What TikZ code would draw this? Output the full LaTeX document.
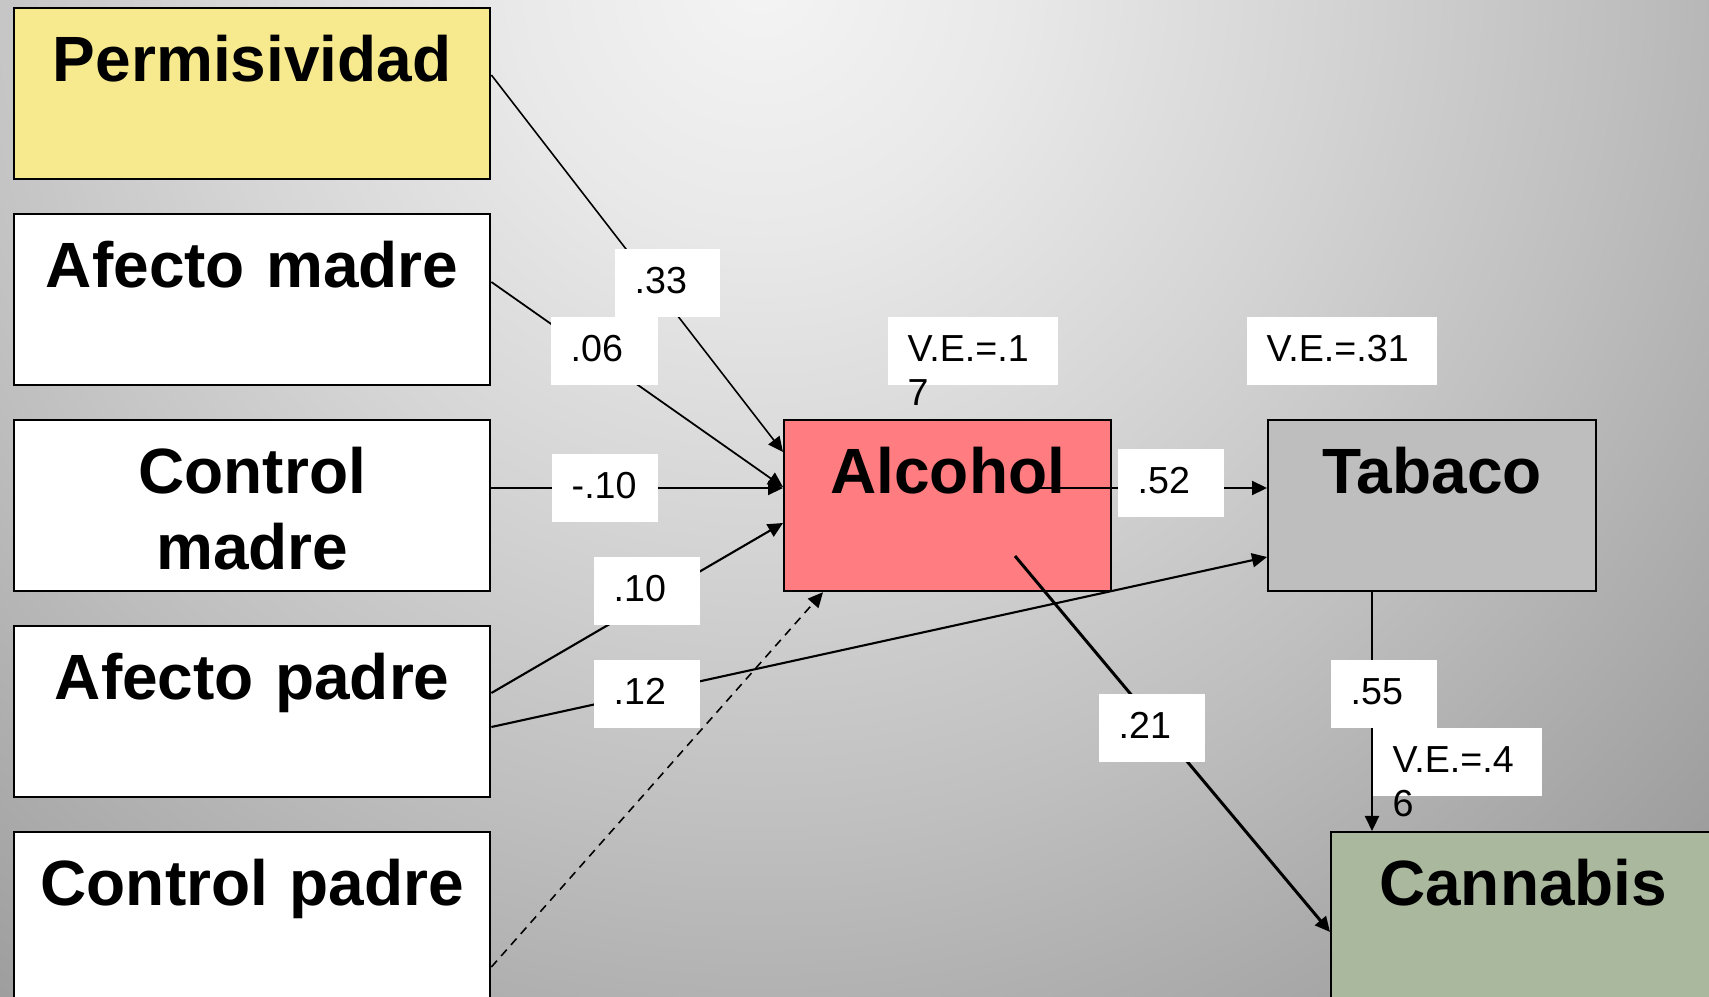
\documentclass[tikz,border=0pt]{standalone}
\usepackage{fontspec}
\setmainfont{Liberation Sans}
\usetikzlibrary{arrows.meta,calc}
\definecolor{bgA}{HTML}{F4F4F4}
\definecolor{bgB}{HTML}{E9E9E9}
\definecolor{bgC}{HTML}{D5D5D5}
\definecolor{bgD}{HTML}{BFBFBF}
\definecolor{bgE}{HTML}{AFAFAF}
\definecolor{bgF}{HTML}{9F9F9F}
\definecolor{bgG}{HTML}{8E8E8E}
\definecolor{permcol}{HTML}{F7E98E}
\definecolor{alccol}{HTML}{FF7C80}
\definecolor{tabcol}{HTML}{BEBEBE}
\definecolor{cancol}{HTML}{AAB99E}
\pgfdeclareradialshading{bgshade}{\pgfpoint{0bp}{0bp}}{color(0bp)=(bgA); color(4.3bp)=(bgB); color(9.5bp)=(bgC); color(14.7bp)=(bgD); color(18.1bp)=(bgE); color(21.6bp)=(bgF); color(25bp)=(bgG); color(50bp)=(bgG)}
\tikzset{
  bigbox/.style={draw=black, line width=0.6pt, anchor=north west, inner sep=0pt,
    align=center, text height=7.3mm, text depth=9.8mm,
    font=\bfseries\fontsize{18.2}{21.6}\selectfont},
  lbl/.style={fill=white, anchor=north west, inner sep=0pt, align=left,
    text height=4.5mm, text depth=2.35mm, font=\fontsize{10.7}{12.5}\selectfont},
  arr/.style={-{Triangle[length=1.5mm,width=1.4mm]}, line width=0.6pt, draw=black},
}
\begin{document}
\begin{tikzpicture}[x=0.01cm,y=-0.01cm]
\useasboundingbox (0,0) rectangle (1709,997);
\clip (0,0) rectangle (1709,997);
\shade[shading=bgshade] (760,-20) circle[radius=14.5cm];

% boxes
\node[bigbox, fill=permcol, text width=47.6mm] (perm) at (13,7) {Permisividad};
\node[bigbox, fill=white, text width=47.6mm] (amad) at (13,213) {Afecto madre};
\node[bigbox, fill=white, text width=47.6mm] (cmad) at (13,419) {Control\\madre};
\node[bigbox, fill=white, text width=47.6mm] (apad) at (13,625) {Afecto padre};
\node[bigbox, fill=white, text width=47.6mm] (cpad) at (13,831) {Control padre};
\node[bigbox, fill=alccol, text width=32.7mm] (alc) at (783,419) {Alcohol};
\node[bigbox, fill=tabcol, text width=32.8mm] (tab) at (1267,419) {Tabaco};
\node[bigbox, fill=cancol, text width=38.4mm] (can) at (1330,831) {Cannabis};

% connectors
\draw[arr, line width=0.45pt] ($(perm.north east)+(0,68)$) -- ($(alc.north west)+(0,33)$);
\draw[arr, line width=0.5pt] ($(amad.north east)+(0,69)$) -- ($(alc.north west)+(0,68)$);
\draw[arr] ($(cmad.north east)+(0,69)$) -- ($(alc.north west)+(0,69)$);
\draw[arr] ($(apad.north east)+(0,68)$) -- ($(alc.north west)+(0,104)$);
\draw[arr] ($(apad.north east)+(0,102)$) -- ($(tab.north west)+(0,138)$);
\draw[arr, line width=0.45pt, dash pattern=on 2.4pt off 1.8pt] ($(cpad.north east)+(0,136)$) -- ($(alc.south west)+(40,0)$);
\draw[arr] ($(alc.north west)+(247,69)$) -- ($(tab.north west)+(0,69)$);
\draw[arr, line width=0.85pt] ($(alc.north west)+(232,137)$) -- ($(can.north west)+(0,101)$);
\draw[arr] ($(tab.south west)+(105,0)$) -- ($(can.north west)+(42,0)$);

% labels
\node[lbl, text width=10.5mm] (l33) at (614,248) {\hspace*{2mm}.33};
\node[lbl, text width=10.7mm] (l06) at (550,316) {\hspace*{2mm}.06};
\node[lbl, text width=10.6mm] (lm10) at (551,453) {\hspace*{2mm}-.10};
\node[lbl, text width=10.6mm] (l10) at (593,556) {\hspace*{2mm}.10};
\node[lbl, text width=10.6mm] (l12) at (593,659) {\hspace*{2mm}.12};
\node[lbl, text width=17.0mm] (ve17) at (887,316) {\hspace*{2mm}V.E.=.1\\\hspace*{2mm}7};
\node[lbl, text width=10.6mm] (l52) at (1117,448) {\hspace*{2mm}.52};
\node[lbl, text width=19.0mm] (ve31) at (1246,316) {\hspace*{2mm}V.E.=.31};
\node[lbl, text width=10.6mm] (l55) at (1330,659) {\hspace*{2mm}.55};
\node[lbl, text width=10.6mm] (l21) at (1098,693) {\hspace*{2mm}.21};
\node[lbl, text width=16.9mm] (ve46) at (1372,727) {\hspace*{2mm}V.E.=.4\\\hspace*{2mm}6};
\end{tikzpicture}
\end{document}
